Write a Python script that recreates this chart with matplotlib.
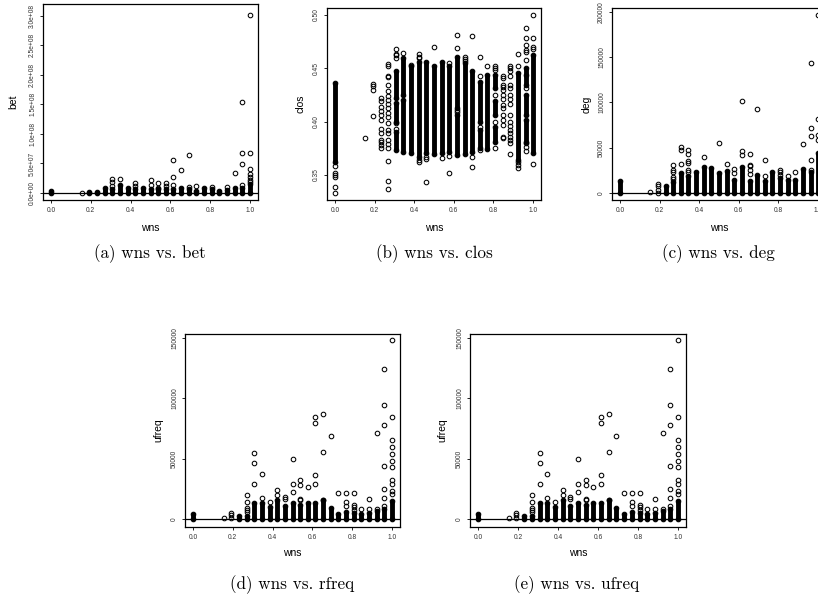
import matplotlib
matplotlib.use("Agg")
import matplotlib.pyplot as plt

W, H = 818, 601

# ---------------- data ----------------
wns_ticks = [0.0, 0.2, 0.4, 0.6, 0.8, 1.0]
wns_tick_labels = ["0.0", "0.2", "0.4", "0.6", "0.8", "1.0"]

# (a) wns vs. bet : dense runs (wns, low, high) and single points (wns, [values])
bet_bands = [(0.0, 0, 4e6), (0.192, 0, 1.5e6), (0.231, 0, 2.5e6), (0.269, 0, 9e6),
             (0.308, 0, 6e6), (0.346, 0, 1.3e7), (0.385, 0, 9e6), (0.423, 0, 7.5e6),
             (0.462, 0, 8.5e6), (0.5, 0, 6e6), (0.538, 0, 6e6), (0.577, 0, 7e6),
             (0.615, 0, 6e6), (0.654, 0, 8.5e6), (0.692, 0, 6e6), (0.731, 0, 4e6),
             (0.769, 0, 8.5e6), (0.808, 0, 7.5e6), (0.846, 0, 4e6), (0.885, 0, 5e6),
             (0.923, 0, 8e6), (0.962, 0, 8e6), (1.0, 0, 1.5e7)]
bet_points = [(0.154, [0]), (0.308, [2.3e7, 1.86e7, 1.18e7]), (0.346, [2.3e7]),
              (0.423, [1.64e7, 1.18e7]), (0.5, [2.2e7, 1.3e7]), (0.538, [1.64e7, 8.5e6]),
              (0.577, [1.64e7, 1.18e7]), (0.615, [5.64e7, 2.65e7, 1.3e7]), (0.654, [3.9e7]),
              (0.692, [6.4e7, 1.07e7]), (0.731, [1.24e7]), (0.808, [1.07e7]), (0.885, [1.0e7]),
              (0.923, [3.4e7]), (0.962, [1.54e8, 6.7e7, 4.85e7, 1.35e7]),
              (1.0, [3.02e8, 6.77e7, 4.0e7, 3.16e7, 2.65e7, 2.2e7, 1.8e7])]
bet_ticks = [0, 5e7, 1e8, 1.5e8, 2e8, 2.5e8, 3e8]
bet_tick_labels = ["0.0e+00", "5.0e+07", "1.0e+08", "1.5e+08", "2.0e+08", "2.5e+08", "3.0e+08"]

# (b) wns vs. clos
clos_bands = [(0.0, 0.3625, 0.436), (0.308, 0.4219, 0.4469), (0.308, 0.400, 0.4172),
              (0.308, 0.3734, 0.3906), (0.346, 0.425, 0.4594), (0.346, 0.3719, 0.4203),
              (0.385, 0.3703, 0.4516), (0.423, 0.3672, 0.4556), (0.462, 0.3703, 0.4556),
              (0.5, 0.3694, 0.4516), (0.538, 0.3703, 0.4556), (0.577, 0.3719, 0.4516),
              (0.615, 0.4125, 0.4609), (0.615, 0.3688, 0.4063), (0.654, 0.3694, 0.4547),
              (0.692, 0.3719, 0.4469), (0.731, 0.400, 0.4375), (0.731, 0.375, 0.392),
              (0.769, 0.3744, 0.4438), (0.808, 0.4313, 0.4438), (0.808, 0.4063, 0.4188),
              (0.808, 0.3813, 0.3953), (0.923, 0.3641, 0.4453), (0.962, 0.4344, 0.450),
              (0.962, 0.4063, 0.425), (0.962, 0.3813, 0.4016), (1.0, 0.3703, 0.4625)]
clos_points = [(0.0, [0.358, 0.3522, 0.350, 0.3481, 0.3391, 0.3334]),
               (0.154, [0.385]),
               (0.192, [0.435, 0.4334, 0.4297, 0.4056]),
               (0.231, [0.4225, 0.4188, 0.4141, 0.410, 0.4063, 0.4016, 0.3931, 0.3897,
                        0.3828, 0.3806, 0.3781, 0.375]),
               (0.269, [0.4538, 0.4522, 0.4428, 0.4413, 0.4344, 0.4288, 0.4244, 0.4203,
                        0.4166, 0.4125, 0.4078, 0.4041, 0.3984, 0.3922, 0.3891, 0.3828,
                        0.3788, 0.375, 0.3634, 0.3447, 0.3366]),
               (0.308, [0.4678, 0.4637, 0.4625, 0.4594, 0.3984, 0.3931]),
               (0.346, [0.4641]), (0.385, [0.4531]),
               (0.423, [0.4631, 0.4609, 0.4594, 0.3641, 0.3619]),
               (0.462, [0.3672, 0.365, 0.3438]), (0.5, [0.470]), (0.538, [0.3663]),
               (0.577, [0.4547, 0.3681, 0.3522]),
               (0.615, [0.4813, 0.4688, 0.4094, 0.411]),
               (0.654, [0.4609, 0.4588, 0.4563]),
               (0.692, [0.4797, 0.3672, 0.3578]),
               (0.731, [0.4609, 0.4422, 0.3953, 0.3734]),
               (0.769, [0.4522]),
               (0.808, [0.4522, 0.450, 0.4484, 0.425, 0.400, 0.375]),
               (0.846, [0.4428, 0.4406, 0.4344, 0.4328, 0.4297, 0.425, 0.4209, 0.4156,
                        0.4125, 0.4063, 0.4016, 0.3969, 0.3859, 0.3844]),
               (0.885, [0.4522, 0.450, 0.4469, 0.4422, 0.4344, 0.4313, 0.425, 0.4209,
                        0.4163, 0.4063, 0.400, 0.3959, 0.3922, 0.3891, 0.3859, 0.3828,
                        0.3797, 0.3694]),
               (0.923, [0.4631, 0.4522, 0.3619, 0.3594, 0.3563]),
               (0.962, [0.4875, 0.4781, 0.4719, 0.4672, 0.465, 0.4578, 0.4438, 0.4313,
                        0.3797, 0.3766, 0.3728]),
               (1.0, [0.500, 0.4781, 0.4694, 0.4678, 0.360])]
clos_ticks = [0.35, 0.40, 0.45, 0.50]
clos_tick_labels = ["0.35", "0.40", "0.45", "0.50"]

# (c) wns vs. deg
deg_bands = [(0.0, 0, 12800), (0.231, 0, 7300), (0.269, 0, 11700), (0.308, 0, 22000),
             (0.346, 0, 18350), (0.385, 0, 23100), (0.423, 0, 28600), (0.462, 0, 27200),
             (0.5, 0, 22000), (0.538, 0, 24600), (0.577, 0, 14700), (0.615, 0, 28600),
             (0.654, 0, 12800), (0.692, 0, 20200), (0.731, 0, 13600), (0.769, 0, 23100),
             (0.808, 0, 16100), (0.846, 0, 14700), (0.885, 0, 14700), (0.923, 0, 26400),
             (0.962, 0, 22700), (1.0, 0, 44000)]
deg_points = [(0.154, [1000]), (0.192, [10300, 8000, 2900, 0]),
              (0.269, [31000, 25000, 22700, 17600, 15400]),
              (0.308, [50600, 47700, 32300]),
              (0.346, [47000, 43300, 35600, 33000, 25700, 23100]),
              (0.423, [39300]), (0.5, [55000]), (0.538, [32000]), (0.577, [26400, 22000]),
              (0.615, [101700, 45900, 42200]),
              (0.654, [43300, 31200, 29400, 25000, 21300]),
              (0.692, [93200]), (0.731, [36700, 19100]), (0.808, [25700, 23500, 20200]),
              (0.846, [19100]), (0.885, [22700]), (0.923, [54000]),
              (0.962, [144000, 71500, 62400, 36000, 25000]),
              (1.0, [196000, 81500, 64200, 58700])]
deg_ticks = [0, 50000, 100000, 150000, 200000]
deg_tick_labels = ["0", "50000", "100000", "150000", "200000"]

# (d) wns vs. rfreq and (e) wns vs. ufreq (same picture, y label "ufreq")
ufreq_bands = [(0.0, 0, 4400), (0.231, 0, 2500), (0.269, 0, 2500), (0.308, 0, 13500),
               (0.346, 0, 13500), (0.385, 0, 10000), (0.423, 0, 15500), (0.462, 0, 10800),
               (0.5, 0, 13500), (0.538, 0, 11600), (0.577, 0, 13500), (0.615, 0, 13500),
               (0.654, 0, 15500), (0.692, 0, 8800), (0.731, 0, 3900), (0.769, 0, 6000),
               (0.808, 0, 5200), (0.846, 0, 4000), (0.885, 0, 5200), (0.923, 0, 6600),
               (0.962, 0, 8000), (1.0, 0, 14900)]
ufreq_points = [(0.154, [1000]), (0.192, [5000, 3000, 1000]),
                (0.269, [19500, 13800, 9000, 7200, 5500]),
                (0.308, [55000, 46400, 29200]), (0.346, [37500, 17700]), (0.385, [14400]),
                (0.423, [23700, 19900]), (0.462, [18200, 16800]),
                (0.5, [50000, 29200, 22200]), (0.538, [32500, 28300, 16800, 15700]),
                (0.577, [26400]), (0.615, [84700, 79200, 36100, 29200]),
                (0.654, [86900, 55600, 16100]), (0.692, [68900]), (0.731, [21800]),
                (0.769, [21800, 14000, 10800]), (0.808, [21800, 12000, 10000, 7500]),
                (0.846, [8000]), (0.885, [16300, 8000]), (0.923, [71400, 8000]),
                (0.962, [124200, 94400, 78300, 43900, 25000, 17200, 11100]),
                (1.0, [148600, 84700, 65300, 59700, 54200, 48000, 43000, 32000, 28700,
                       23000, 20400])]
ufreq_ticks = [0, 50000, 100000, 150000]
ufreq_tick_labels = ["0", "50000", "100000", "150000"]

# ---------------- drawing ----------------
SANS = ["Liberation Sans", "DejaVu Sans"]
SERIF = ["cmr10", "DejaVu Serif"]
plt.rcParams["axes.formatter.use_mathtext"] = False

fig = plt.figure(figsize=(W / 100, H / 100), dpi=100)


def px(x, y):
    return x / W, 1 - y / H


def panel(frame, ylim, bands, points, yticks, ylabels, ylab, ylab_x, xlab_y,
          caption, cap_x, cap_y, zero_line=True):
    x0, y0, x1, y1 = frame
    ax = fig.add_axes([x0 / W, 1 - y1 / H, (x1 - x0) / W, (y1 - y0) / H])
    ax.set_xlim(-0.04, 1.04)
    ax.set_ylim(*ylim)
    if zero_line:
        ax.axhline(0, color="black", lw=0.9, zorder=1)
    bx = [b[0] for b in bands]
    blo = [b[1] for b in bands]
    bhi = [b[2] for b in bands]
    lc = ax.vlines(bx, blo, bhi, colors="black", linewidth=3.5, zorder=2)
    lc.set_capstyle("round")
    px_, py_ = [], []
    for xv, ys in points:
        for yv in ys:
            px_.append(xv)
            py_.append(yv)
    ax.plot(px_, py_, linestyle="none", marker="o", markersize=3.3,
            markerfacecolor="none", markeredgecolor="black", markeredgewidth=0.75,
            zorder=3)
    ax.plot(bx + bx, blo + bhi, linestyle="none", marker="o", markersize=3.3,
            markerfacecolor="none", markeredgecolor="black", markeredgewidth=0.75,
            zorder=3)
    ax.set_xticks(wns_ticks)
    ax.set_xticklabels(wns_tick_labels, fontfamily=SANS, fontsize=4.8, color="#333333")
    ax.set_yticks(yticks)
    ax.set_yticklabels(ylabels, fontfamily=SANS, fontsize=4.8, color="#333333",
                       rotation=90, va="center", ha="right")
    ax.tick_params(direction="out", length=2.5, width=0.6, pad=2.5)
    for s in ax.spines.values():
        s.set_linewidth(0.9)
    xc = (x0 + x1) / 2
    yc = (y0 + y1) / 2
    fig.text(*px(xc, xlab_y), "wns", fontfamily=SANS, fontsize=7.5,
             ha="center", va="center")
    fig.text(*px(ylab_x, yc), ylab, fontfamily=SANS, fontsize=7.5,
             ha="center", va="center", rotation=90)
    fig.text(*px(cap_x, cap_y), caption, fontfamily=SERIF, fontsize=12.3,
             ha="center", va="center")
    return ax


panel((43, 4, 258, 200), (-1.18e7, 3.2e8), bet_bands, bet_points,
      bet_ticks, bet_tick_labels, "bet", 13, 228, "(a) wns vs. bet", 150, 254)
panel((327, 8, 541, 200), (0.3266, 0.5063), clos_bands, clos_points,
      clos_ticks, clos_tick_labels, "clos", 300, 228, "(b) wns vs. clos", 434, 254,
      zero_line=False)
panel((612, 8, 826, 200), (-7700, 204200), deg_bands, deg_points,
      deg_ticks, deg_tick_labels, "deg", 587, 228, "(c) wns vs. deg", 718, 254)
panel((185, 334, 400, 527), (-6630, 153300), ufreq_bands, ufreq_points,
      ufreq_ticks, ufreq_tick_labels, "ufreq", 158, 553, "(d) wns vs. rfreq", 292, 585)
panel((470, 334, 686, 527), (-6630, 153300), ufreq_bands, ufreq_points,
      ufreq_ticks, ufreq_tick_labels, "ufreq", 442, 553, "(e) wns vs. ufreq", 577, 585)

fig.savefig("out.png", dpi=100)
